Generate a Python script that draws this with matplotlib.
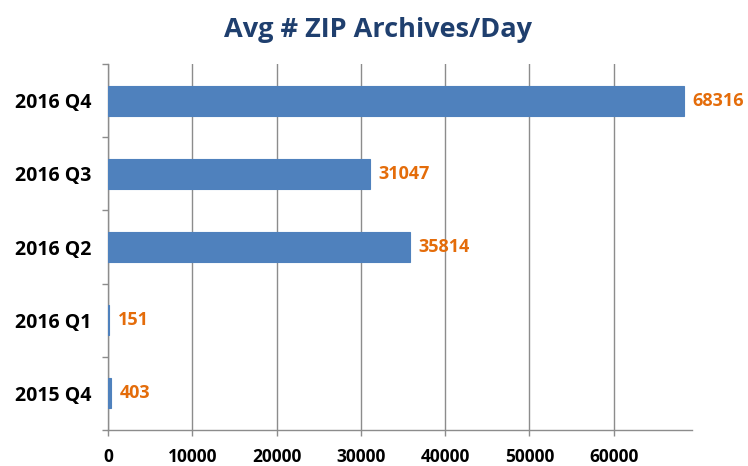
import matplotlib
matplotlib.use("Agg")
import matplotlib.pyplot as plt
from matplotlib import font_manager as fm

categories = ["2015 Q4", "2016 Q1", "2016 Q2", "2016 Q3", "2016 Q4"]
values = [403, 151, 35814, 31047, 68316]
xticks = [0, 10000, 20000, 30000, 40000, 50000, 60000]
title = "Avg # ZIP Archives/Day"

names = {f.name for f in fm.fontManager.ttflist}
fam = "Liberation Sans Narrow" if "Liberation Sans Narrow" in names else "Open Sans"
plt.rcParams["font.family"] = [fam, "DejaVu Sans"]

fig = plt.figure(figsize=(7.48, 4.66), dpi=100)
ax = fig.add_axes([108/748, 1 - 430/466, (692-108)/748, (430-64)/466])

grid_c = "#8c8c8c"
ypos = list(range(len(categories)))
bars = ax.barh(ypos, values, height=0.41, color="#4F81BD",
               edgecolor="#4F81BD", linewidth=0.8, zorder=3)

ax.set_xlim(0, 69300)
ax.set_ylim(-0.5, len(categories) - 0.5)
ax.set_xticks(xticks)
ax.set_xticklabels([str(t) for t in xticks])
ax.set_yticks(ypos)
ax.set_yticklabels(categories)
ax.set_yticks([i - 0.5 for i in range(len(categories) + 1)], minor=True)

for s in ["top", "right"]:
    ax.spines[s].set_visible(False)
for s in ["left", "bottom"]:
    ax.spines[s].set_color(grid_c)
    ax.spines[s].set_linewidth(1)

ax.xaxis.grid(True, color=grid_c, linewidth=1, zorder=0)
ax.tick_params(axis="x", length=4, width=1, color=grid_c, pad=9,
               labelsize=12.5, labelcolor="black")
ax.tick_params(axis="y", which="major", length=0, pad=12,
               labelsize=14, labelcolor="black")
ax.tick_params(axis="y", which="minor", length=4, width=1, color=grid_c)
for lbl in ax.get_xticklabels() + ax.get_yticklabels():
    lbl.set_fontweight("bold")

for y, v in zip(ypos, values):
    ax.annotate(str(v), xy=(v, y), xytext=(6, 0), textcoords="offset points",
                ha="left", va="center", color="#E46C0A", fontsize=13,
                fontweight="bold", zorder=4)

fig.text(378/748, 1 - 30/466, title, ha="center", va="center",
         fontsize=19.5, fontweight="bold", color="#1F3F6E")

fig.savefig("out.png", dpi=100)
